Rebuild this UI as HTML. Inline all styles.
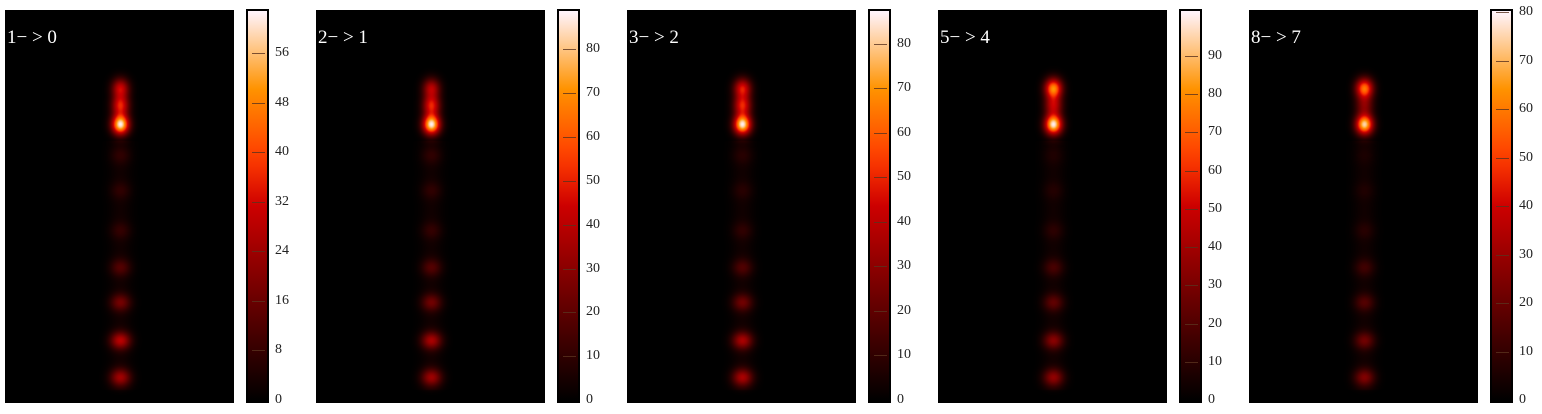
<!DOCTYPE html>
<html><head><meta charset="utf-8">
<style>
body{margin:0;background:#fff;width:1542px;height:414px;overflow:hidden;font-family:"Liberation Serif",serif}
.panel{position:absolute;top:0;width:311px;height:414px}
canvas{position:absolute}
.lbl{position:absolute;left:7px;top:27px;color:#fff;font-size:19px}
.cb{position:absolute;left:246px;top:9px;width:19px;height:390px;border:2px solid #000}
.tk{position:absolute;left:275px;font-size:14px;color:#222;transform:translateY(-50%)}
.tm{position:absolute;left:252px;width:13px;height:1px;background:rgba(90,50,30,.8)}
</style></head><body>
<div id="root"></div>
<script>
const labels=["1\u2212 > 0","2\u2212 > 1","3\u2212 > 2","5\u2212 > 4","8\u2212 > 7"];
const cbMax=[63,89,87.6,102,80.5];
const tickStep=[8,10,10,10,10];
const tickTop=[56,80,80,90,80];
const spotY=[88,105,124,155,190,230,267,302,340,377];
const spotVals=[
 [0.5,0.55,1.0,0.08,0.08,0.09,0.17,0.25,0.42,0.36],
 [0.45,0.55,1.0,0.08,0.08,0.09,0.17,0.24,0.38,0.35],
 [0.55,0.55,1.0,0.06,0.06,0.08,0.16,0.24,0.38,0.38],
 [0.8,0.45,1.0,0.04,0.05,0.07,0.14,0.2,0.3,0.32],
 [0.75,0.3,0.95,0.03,0.04,0.06,0.12,0.17,0.24,0.28]];
function cmap(t){t=Math.max(0,Math.min(1,t));
 const r=Math.min(1,t/0.62),g=Math.max(0,Math.min(1,(t-0.5)/0.52)),b=Math.max(0,Math.min(1,(t-0.8)/0.2));
 return [r*255|0,g*255|0,b*255|0];}
const root=document.getElementById('root');
for(let p=0;p<5;p++){
 const pn=document.createElement('div');pn.className='panel';pn.style.left=(p*311)+'px';
 
 
 const c=document.createElement('canvas');c.width=229;c.height=393;c.style.left='5px';c.style.top='10px';
 
 
 const ctx=c.getContext('2d');const im=ctx.createImageData(229,393);
 for(let y=0;y<393;y++)for(let x=0;x<229;x++){
  let v=0;const X=x+5,Y=y+10;
  for(let k=0;k<spotY.length;k++){
   const sx=k<3?6:7,sy=k<3?7:6;
   const dx=(X-120)/sx,dy=(Y-spotY[k])/sy;
   v+=spotVals[p][k]*Math.exp(-0.5*(dx*dx+dy*dy));
  }
  v+=0.04*Math.exp(-0.5*((X-120)/8)**2)*(Y>140&&Y<390?1:0);
  const col=cmap(v*0.98);const i=(y*229+x)*4;
  im.data[i]=col[0];im.data[i+1]=col[1];im.data[i+2]=col[2];im.data[i+3]=255;}
 ctx.putImageData(im,0,0);pn.appendChild(c);
 const l=document.createElement('div');l.className='lbl';l.textContent=labels[p];
 
 
 pn.appendChild(l);
 const cb=document.createElement('div');cb.className='cb';
 
 
 let stops=[];for(let i=0;i<=20;i++){const col=cmap(i/20);stops.push(`rgb(${col})`+' '+(100-i*5)+'%');}
 cb.style.background='linear-gradient(to bottom,'+stops.reverse().join(',')+')';
 pn.appendChild(cb);
 for(let v=0;v<=tickTop[p];v+=tickStep[p]){
  const y=400-v/cbMax[p]*390;
  const t=document.createElement('div');t.className='tk';t.style.top=y+'px';t.textContent=v;
  
  
  pn.appendChild(t);
  if(v>0){const m=document.createElement('div');m.className='tm';m.style.top=y+'px';
  
  
  pn.appendChild(m);}
 }
 root.appendChild(pn);
}
</script>
</body></html>
